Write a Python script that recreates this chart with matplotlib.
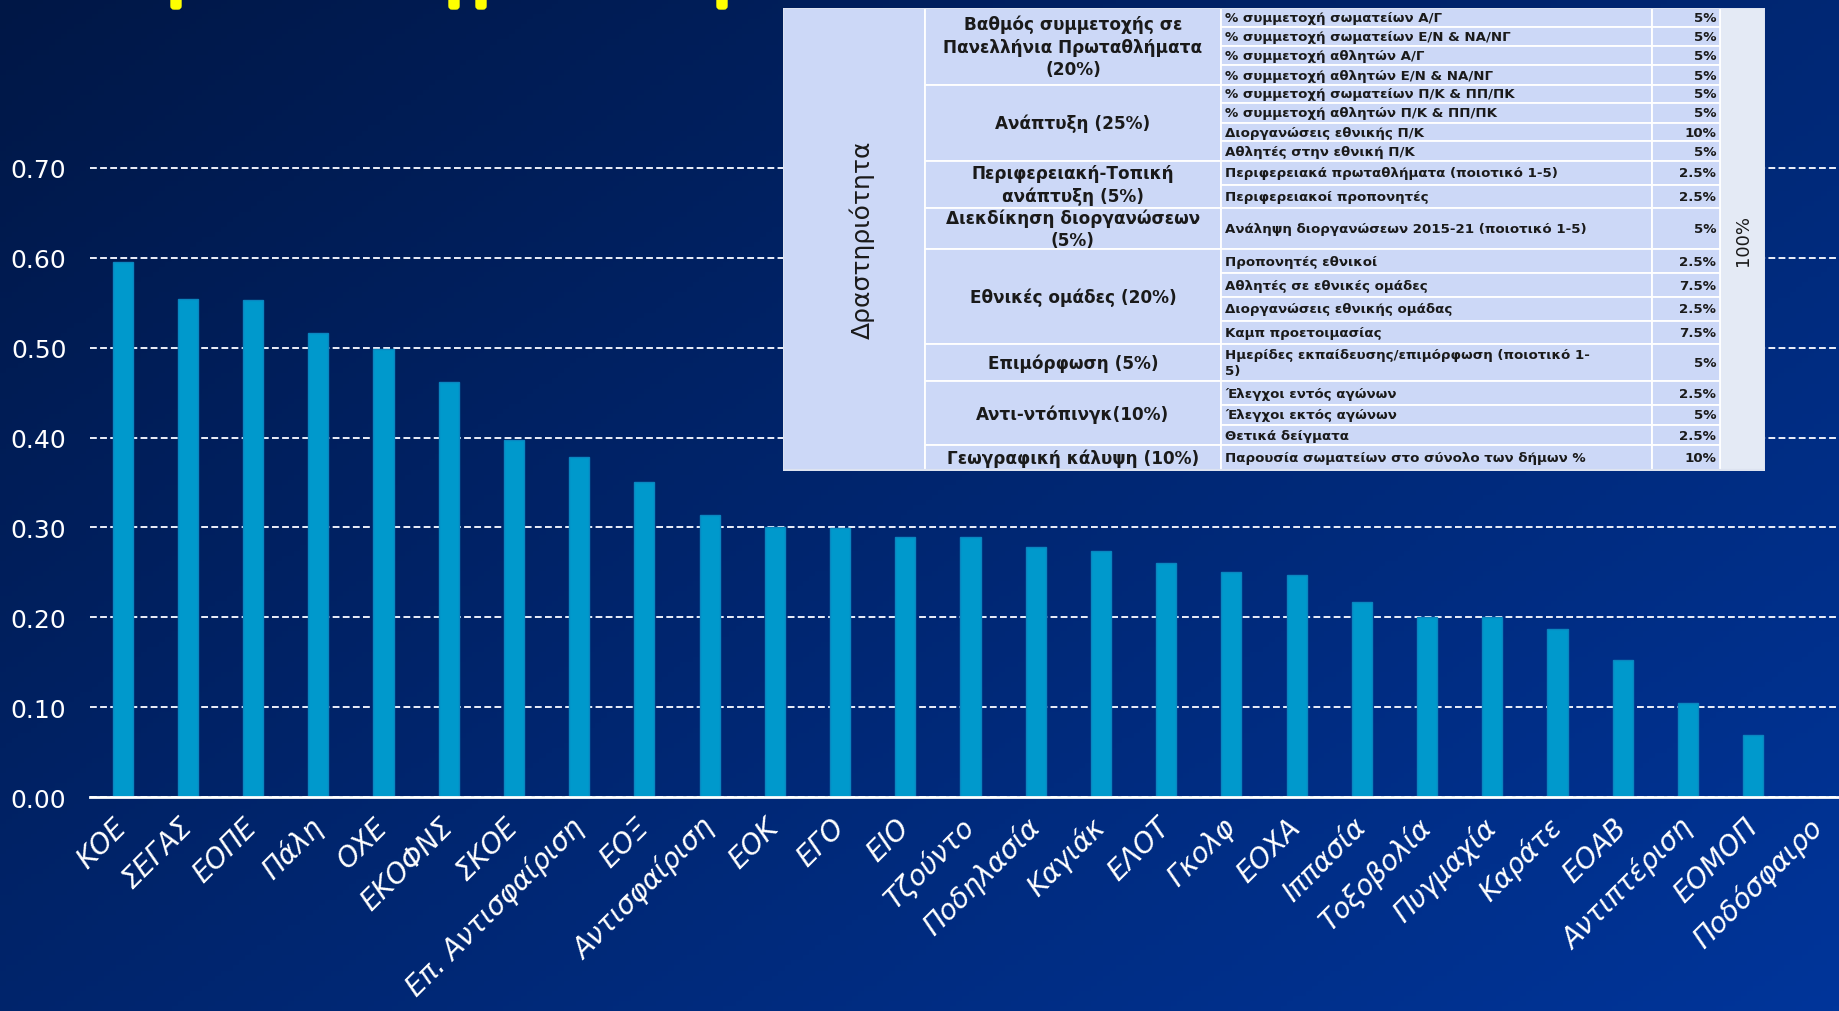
import numpy as np
import matplotlib
matplotlib.use("Agg")
import matplotlib.pyplot as plt
from matplotlib.patches import Rectangle, FancyBboxPatch

# --------------------------
# data
federations = ["ΚΟΕ", "ΣΕΓΑΣ", "ΕΟΠΕ", "Πάλη", "ΟΧΕ", "ΕΚΟΦΝΣ", "ΣΚΟΕ",
               "Επ. Αντισφαίριση", "ΕΟΞ", "Αντισφαίριση", "ΕΟΚ", "ΕΓΟ", "ΕΙΟ",
               "Τζούντο", "Ποδηλασία", "Καγιάκ", "ΕΛΟΤ", "Γκολφ", "ΕΟΧΑ",
               "Ιππασία", "Τοξοβολία", "Πυγμαχία", "Καράτε", "ΕΟΑΒ",
               "Αντιπτέριση", "ΕΟΜΟΠ", "Ποδόσφαιρο"]
scores = [0.595, 0.554, 0.553, 0.516, 0.498, 0.462, 0.397, 0.378, 0.351,
          0.314, 0.301, 0.299, 0.289, 0.289, 0.278, 0.274, 0.261, 0.251,
          0.247, 0.217, 0.201, 0.201, 0.187, 0.153, 0.105, 0.069, 0.0]
yticks = [0.0, 0.1, 0.2, 0.3, 0.4, 0.5, 0.6, 0.7]

# table with the criteria
table_title = "Δραστηριότητα"
table_total = "100%"
groups = ["Βαθμός συμμετοχής σε\nΠανελλήνια Πρωταθλήματα\n(20%)",
          "Ανάπτυξη (25%)",
          "Περιφερειακή-Τοπική\nανάπτυξη (5%)",
          "Διεκδίκηση διοργανώσεων\n(5%)",
          "Εθνικές ομάδες (20%)",
          "Επιμόρφωση (5%)",
          "Αντι-ντόπινγκ(10%)",
          "Γεωγραφική κάλυψη (10%)"]
group_rows = [4, 4, 2, 1, 4, 1, 3, 1]
criteria = ["% συμμετοχή σωματείων Α/Γ",
            "% συμμετοχή σωματείων Ε/Ν & ΝΑ/ΝΓ",
            "% συμμετοχή αθλητών Α/Γ",
            "% συμμετοχή αθλητών Ε/Ν & ΝΑ/ΝΓ",
            "% συμμετοχή σωματείων Π/Κ & ΠΠ/ΠΚ",
            "% συμμετοχή αθλητών Π/Κ & ΠΠ/ΠΚ",
            "Διοργανώσεις εθνικής Π/Κ",
            "Αθλητές στην εθνική Π/Κ",
            "Περιφερειακά πρωταθλήματα (ποιοτικό 1-5)",
            "Περιφερειακοί προπονητές",
            "Ανάληψη διοργανώσεων 2015-21 (ποιοτικό 1-5)",
            "Προπονητές εθνικοί",
            "Αθλητές σε εθνικές ομάδες",
            "Διοργανώσεις εθνικής ομάδας",
            "Καμπ προετοιμασίας",
            "Ημερίδες εκπαίδευσης/επιμόρφωση (ποιοτικό 1-\n5)",
            "Έλεγχοι εντός αγώνων",
            "Έλεγχοι εκτός αγώνων",
            "Θετικά δείγματα",
            "Παρουσία σωματείων στο σύνολο των δήμων %"]
weights = ["5%", "5%", "5%", "5%", "5%", "5%", "10%", "5%", "2.5%", "2.5%",
           "5%", "2.5%", "7.5%", "2.5%", "7.5%", "5%", "2.5%", "5%", "2.5%",
           "10%"]

# --------------------------
W, H = 1839, 1012
fig = plt.figure(figsize=(W / 100, H / 100), dpi=100)

# background gradient
bg = fig.add_axes([0, 0, 1, 1], zorder=-10)
gx, gy = np.meshgrid(np.linspace(0, 1, 300), np.linspace(0, 1, 200))
t = np.clip(0.55 * gx + 0.45 * gy, 0, 1)
c0 = np.array([0x00, 0x17, 0x46]) / 255
c1 = np.array([0x00, 0x35, 0x9A]) / 255
img = c0[None, None, :] * (1 - t[..., None]) + c1[None, None, :] * t[..., None]
bg.imshow(img, aspect="auto", extent=[0, 1, 0, 1], origin="upper")
bg.axis("off")

# yellow remains of the cut title
for xp in [176, 454, 481, 722]:
    fig.patches.append(FancyBboxPatch((xp - 5, H - 10), 10, 14,
                                      boxstyle="round,pad=0,rounding_size=3",
                                      transform=None, color="#FFFF00"))

# --------------------------
# bar chart
ax = fig.add_axes([90 / W, 1 - 798.3 / H, 1761 / W, 630 / H])
ax.set_facecolor("none")
x = np.arange(len(federations))
ax.bar(x, scores, width=0.31, color="#0099CC", edgecolor="#0A86C0",
       linewidth=1, zorder=3)
ax.set_xlim(-0.5, len(federations) - 0.5)
ax.set_ylim(0, 0.7005)
ax.set_yticks(yticks)
ax.set_yticklabels([f"{v:.2f}" for v in yticks], color="white", fontsize=18)
ax.yaxis.grid(True, color="#ECEFFA", linestyle=(0, (3.5, 1.7)), linewidth=1.4,
              zorder=1)
ax.set_axisbelow(True)
ax.set_xticks(x)
ax.set_xticklabels(federations, rotation=45, ha="right", va="center",
                   rotation_mode="anchor", color="white", fontsize=20,
                   style="italic")
ax.tick_params(axis="both", length=0)
ax.tick_params(axis="y", pad=17)
ax.tick_params(axis="x", pad=18)
for s in ["top", "right", "left"]:
    ax.spines[s].set_visible(False)
ax.spines["bottom"].set_color("white")
ax.spines["bottom"].set_linewidth(2)
ax.spines["bottom"].set_zorder(4)

# --------------------------
# criteria table (drawn on top, in pixel units)
tx0, ty0, tx1, ty1 = 783, 9, 1765, 472
tab = fig.add_axes([tx0 / W, 1 - ty1 / H, (tx1 - tx0) / W, (ty1 - ty0) / H],
                   zorder=5)
tab.set_xlim(0, tx1 - tx0)
tab.set_ylim(ty1 - ty0, 0)
tab.axis("off")

col_edges = [0, 142, 438, 869, 937, 982]
row_h = [19, 19.4, 19, 19.3, 18.3, 19.7, 18.7, 19.6, 23.7, 23, 41.7, 24,
         23.3, 24, 23.3, 37.4, 23.3, 20, 20.7, 25]
row_edges = np.concatenate([[0], np.cumsum(row_h)])
total_h = row_edges[-1]
cell_c = "#CCD8F7"
txt_c = "#1A1A1A"
lw = 1.3

def cell(x0, x1, y0, y1, fc=cell_c):
    tab.add_patch(Rectangle((x0, y0), x1 - x0, y1 - y0, facecolor=fc,
                            edgecolor="white", linewidth=lw))

cell(col_edges[0], col_edges[1], 0, total_h)
tab.text((col_edges[0] + col_edges[1]) / 2 + 8, total_h / 2, table_title,
         rotation=90, ha="center", va="center", fontsize=18, color=txt_c)
cell(col_edges[4], col_edges[5], 0, total_h, fc="#E4EAF5")
tab.text((col_edges[4] + col_edges[5]) / 2, total_h / 2, table_total,
         rotation=90, ha="center", va="center", fontsize=13, color=txt_c)

r = 0
for g, n in zip(groups, group_rows):
    y0, y1 = row_edges[r], row_edges[r + n]
    cell(col_edges[1], col_edges[2], y0, y1)
    tab.text((col_edges[1] + col_edges[2]) / 2, (y0 + y1) / 2, g,
             ha="center", va="center", fontsize=12.2, fontweight="bold",
             color=txt_c, linespacing=1.3)
    r += n

for i, (c, w) in enumerate(zip(criteria, weights)):
    y0, y1 = row_edges[i], row_edges[i + 1]
    cell(col_edges[2], col_edges[3], y0, y1)
    cell(col_edges[3], col_edges[4], y0, y1)
    tab.text(col_edges[2] + 4, (y0 + y1) / 2, c, ha="left", va="center",
             fontsize=9.6, fontweight="bold", color=txt_c, linespacing=1.25)
    tab.text(col_edges[4] - 4, (y0 + y1) / 2, w, ha="right", va="center",
             fontsize=9.6, fontweight="bold", color=txt_c)

tab.add_patch(Rectangle((0, 0), col_edges[-1], total_h, facecolor="none",
                        edgecolor="#DDE3F0", linewidth=1.5))

fig.savefig("out.png", dpi=100)
